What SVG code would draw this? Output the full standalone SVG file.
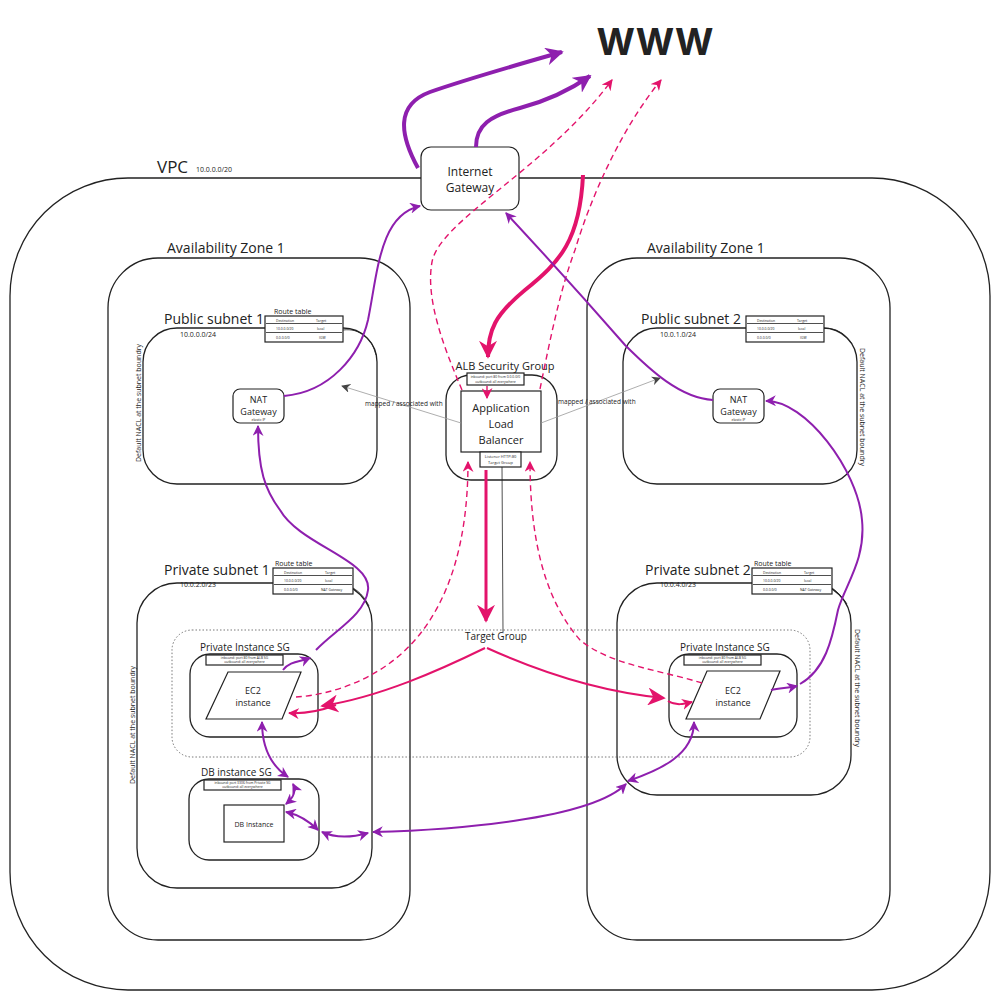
<svg xmlns="http://www.w3.org/2000/svg" width="1002" height="1003" viewBox="0 0 1002 1003">
<defs>
<style>
text{font-family:"Open Sans","Noto Sans",sans-serif;fill:#222}
.box{fill:none;stroke:#222;stroke-width:1.3}
.boxw{fill:#fff;stroke:#222;stroke-width:1.2}
.thin{fill:none;stroke:#222;stroke-width:0.8}
.dot{fill:none;stroke:#555;stroke-width:0.8;stroke-dasharray:1.5 2}
.c{text-anchor:middle}
.t17{font-size:17px}
.t14{font-size:14px}
.t12{font-size:12px}
.t11{font-size:11px}
.t10{font-size:10px}
.t9{font-size:9px}
.t7{font-size:7px}
.t6{font-size:6.5px}
.t4{font-size:4px}
.t3{font-size:3.4px}
.p{fill:none;stroke:#8e1fae;stroke-width:2}
.pL{fill:none;stroke:#8e1fae;stroke-width:4}
.k{fill:none;stroke:#e3136b;stroke-width:2}
.kL{fill:none;stroke:#e3136b;stroke-width:4}
.kd{fill:none;stroke:#e3136b;stroke-width:1.4;stroke-dasharray:6 4}
.g{fill:none;stroke:#999;stroke-width:0.8}
</style>
<marker id="ap" viewBox="0 0 10 10" refX="9" refY="5" markerWidth="11" markerHeight="11" markerUnits="userSpaceOnUse" orient="auto-start-reverse"><path d="M0,0 L10,5 L0,10 L3,5 z" fill="#8e1fae"/></marker>
<marker id="apL" viewBox="0 0 10 10" refX="9" refY="5" markerWidth="18" markerHeight="18" markerUnits="userSpaceOnUse" orient="auto-start-reverse"><path d="M0,0 L10,5 L0,10 L3,5 z" fill="#8e1fae"/></marker>
<marker id="ak" viewBox="0 0 10 10" refX="9" refY="5" markerWidth="11" markerHeight="11" markerUnits="userSpaceOnUse" orient="auto-start-reverse"><path d="M0,0 L10,5 L0,10 L3,5 z" fill="#e3136b"/></marker>
<marker id="akL" viewBox="0 0 10 10" refX="9" refY="5" markerWidth="18" markerHeight="18" markerUnits="userSpaceOnUse" orient="auto-start-reverse"><path d="M0,0 L10,5 L0,10 L3,5 z" fill="#e3136b"/></marker>
<marker id="ag" viewBox="0 0 10 10" refX="9" refY="5" markerWidth="9" markerHeight="9" markerUnits="userSpaceOnUse" orient="auto"><path d="M0,0 L10,5 L0,10 L3,5 z" fill="#444"/></marker>
</defs>

<rect width="1002" height="1003" fill="#fff"/>

<!-- title -->
<text x="655" y="55" class="c" style="font-size:37px;font-weight:700;font-family:Inter,'Open Sans',sans-serif">WWW</text>

<!-- VPC -->
<g id="vpc">
<rect x="10" y="178" width="980" height="812" rx="118" class="box"/>
<text x="157" y="173" class="t17">VPC</text>
<text x="196" y="172" class="t7">10.0.0.0/20</text>
</g>

<g id="igw">
<rect x="421" y="147" width="98" height="63" rx="10" class="boxw"/>
<text x="470" y="176" class="c t12">Internet</text>
<text x="470" y="192" class="c t12">Gateway</text>
</g>

<g id="az1-left">
<rect x="108" y="258" width="302" height="682" rx="50" class="box"/>
<text x="167" y="253" class="t14">Availability Zone 1</text>
</g>
<g id="az1-right">
<rect x="587" y="258" width="303" height="682" rx="50" class="box"/>
<text x="647" y="253" class="t14">Availability Zone 1</text>
</g>

<!-- public subnet 1 -->
<g id="public-subnet-1">
<rect x="143" y="328" width="234" height="156" rx="34" class="box"/>
<text x="164" y="324" class="t14">Public subnet 1</text>
<text x="180" y="337" class="t7">10.0.0.0/24</text>
<text transform="translate(141,403) rotate(-90)" class="c t7">Default NACL at the subnet boundry</text>
</g>
<g id="rt-public-1" transform="translate(265,316)">
<text x="9" y="-2" class="t7">Route table</text>
<rect x="0" y="0" width="78" height="26" class="boxw"/>
<line x1="1" y1="7.5" x2="77" y2="7.5" class="thin"/>
<line x1="1" y1="16.5" x2="77" y2="16.5" class="thin"/>
<text x="11" y="5.5" class="t3">Destination</text><text x="51" y="5.5" class="t3">Target</text>
<text x="11" y="13.5" class="t3">10.0.0.0/20</text><text x="52" y="13.5" class="t3">local</text>
<text x="11" y="22.5" class="t3">0.0.0.0/0</text><text x="54" y="22.5" class="t3">IGW</text>
</g>
<g id="nat-1">
<rect x="233" y="389" width="51" height="34" rx="7" class="boxw"/>
<text x="258.5" y="403" class="c t9">NAT</text>
<text x="258.5" y="415" class="c t9">Gateway</text>
<text x="258.5" y="421" class="c t3">elastic IP</text>
</g>

<!-- public subnet 2 -->
<g id="public-subnet-2">
<rect x="623" y="328" width="234" height="156" rx="34" class="box"/>
<text x="641" y="324" class="t14">Public subnet 2</text>
<text x="660" y="337" class="t7">10.0.1.0/24</text>
<text transform="translate(860,407) rotate(90)" class="c t7">Default NACL at the subnet boundry</text>
</g>
<g id="rt-public-2" transform="translate(746,316)">
<rect x="0" y="0" width="78" height="26" class="boxw"/>
<line x1="1" y1="7.5" x2="77" y2="7.5" class="thin"/>
<line x1="1" y1="16.5" x2="77" y2="16.5" class="thin"/>
<text x="11" y="5.5" class="t3">Destination</text><text x="51" y="5.5" class="t3">Target</text>
<text x="11" y="13.5" class="t3">10.0.0.0/20</text><text x="52" y="13.5" class="t3">local</text>
<text x="11" y="22.5" class="t3">0.0.0.0/0</text><text x="54" y="22.5" class="t3">IGW</text>
</g>
<g id="nat-2">
<rect x="713" y="389" width="51" height="34" rx="7" class="boxw"/>
<text x="738.5" y="403" class="c t9">NAT</text>
<text x="738.5" y="415" class="c t9">Gateway</text>
<text x="738.5" y="421" class="c t3">elastic IP</text>
</g>

<!-- load balancer -->
<g id="alb-sg">
<rect x="446" y="375" width="111" height="105" rx="25" class="box"/>
<text x="505" y="370" class="c t11">ALB Security Group</text>
<rect x="467" y="373" width="57" height="12" class="boxw"/>
<text x="495.5" y="378" class="c t3">inbound: port 80 from 0.0.0.0/0</text>
<text x="495.5" y="382.5" class="c t3">outbound: all everywhere</text>
</g>
<g id="alb">
<rect x="461" y="391" width="80" height="61" class="boxw"/>
<text x="501" y="412" class="c t11">Application</text>
<text x="501" y="428" class="c t11">Load</text>
<text x="501" y="444" class="c t11">Balancer</text>
<rect x="480" y="452" width="41" height="15" class="boxw"/>
<text x="500.5" y="458" class="c t4">Listener HTTP:80</text>
<text x="500.5" y="464" class="c t4">Target Group</text>
</g>

<!-- private subnet 1 -->
<g id="private-subnet-1">
<rect x="137" y="583" width="235" height="305" rx="40" class="box"/>
<text x="164" y="575" class="t14">Private subnet 1</text>
<text x="180" y="587" class="t7">10.0.2.0/23</text>
<text transform="translate(135,725) rotate(-90)" class="c t7">Default NACL at the subnet boundry</text>
</g>
<g id="rt-private-1" transform="translate(273,568)">
<text x="2" y="-2" class="t7">Route table</text>
<rect x="0" y="0" width="80" height="26" class="boxw"/>
<line x1="1" y1="7.5" x2="79" y2="7.5" class="thin"/>
<line x1="1" y1="16.5" x2="79" y2="16.5" class="thin"/>
<text x="11" y="5.5" class="t3">Destination</text><text x="52" y="5.5" class="t3">Target</text>
<text x="11" y="13.5" class="t3">10.0.0.0/20</text><text x="52" y="13.5" class="t3">local</text>
<text x="11" y="22.5" class="t3">0.0.0.0/0</text><text x="48" y="22.5" class="t3">NAT Gateway</text>
</g>

<!-- private subnet 2 -->
<g id="private-subnet-2">
<rect x="617" y="583" width="234" height="212" rx="40" class="box"/>
<text x="645" y="575" class="t14">Private subnet 2</text>
<text x="660" y="587" class="t7">10.0.4.0/23</text>
<text transform="translate(855,688) rotate(90)" class="c t7">Default NACL at the subnet boundry</text>
</g>
<g id="rt-private-2" transform="translate(752,568)">
<text x="2" y="-2" class="t7">Route table</text>
<rect x="0" y="0" width="80" height="26" class="boxw"/>
<line x1="1" y1="7.5" x2="79" y2="7.5" class="thin"/>
<line x1="1" y1="16.5" x2="79" y2="16.5" class="thin"/>
<text x="11" y="5.5" class="t3">Destination</text><text x="52" y="5.5" class="t3">Target</text>
<text x="11" y="13.5" class="t3">10.0.0.0/20</text><text x="52" y="13.5" class="t3">local</text>
<text x="11" y="22.5" class="t3">0.0.0.0/0</text><text x="48" y="22.5" class="t3">NAT Gateway</text>
</g>

<!-- target group -->
<g id="target-group">
<rect x="172" y="630" width="638" height="127" rx="20" class="dot"/>
<text x="496" y="640" class="c t10">Target Group</text>
</g>

<g id="instance-sg-1">
<rect x="190" y="654" width="128" height="83" rx="20" class="box"/>
<text x="200" y="651" class="t10">Private Instance SG</text>
<rect x="206" y="655" width="77" height="10" class="boxw"/>
<text x="244.5" y="659" class="c t3">inbound: port 80 from ALB SG</text>
<text x="244.5" y="663.3" class="c t3">outbound: all everywhere</text>
</g>
<g id="ec2-1">
<polygon points="228,672 301,672 282,719 206,719" class="boxw"/>
<text x="253" y="694" class="c t9">EC2</text>
<text x="253" y="706" class="c t9">instance</text>
</g>

<g id="instance-sg-2">
<rect x="669" y="654" width="128" height="83" rx="20" class="box"/>
<text x="680" y="651" class="t10">Private Instance SG</text>
<rect x="684" y="655" width="77" height="10" class="boxw"/>
<text x="722.5" y="659" class="c t3">inbound: port 80 from ALB SG</text>
<text x="722.5" y="663.3" class="c t3">outbound: all everywhere</text>
</g>
<g id="ec2-2">
<polygon points="707,671 780,671 760,719 686,719" class="boxw"/>
<text x="733" y="694" class="c t9">EC2</text>
<text x="733" y="706" class="c t9">instance</text>
</g>

<g id="db-sg">
<rect x="189" y="779" width="130" height="81" rx="20" class="box"/>
<text x="201" y="776" class="t10">DB instance SG</text>
<rect x="204" y="780" width="77" height="10" class="boxw"/>
<text x="242.5" y="784" class="c t3">inbound: port 3306 from Private SG</text>
<text x="242.5" y="788.3" class="c t3">outbound: all everywhere</text>
</g>
<g id="db">
<rect x="224" y="805" width="60" height="37" class="boxw"/>
<text x="254" y="827" class="c t7">DB Instance</text>
</g>

<!-- connectors -->
<g id="connectors">
<!-- route table associations -->
<path d="M343 330 C360 328 372 338 376 355" class="thin"/>
<path d="M824 328 C836 328 846 334 852 344" class="thin"/>
<path d="M353 588 C360 592 365 598 369 606" class="thin"/>
<path d="M832 588 C838 592 842 597 847 604" class="thin"/>
<!-- listener to target group -->
<path d="M502 467 L503 632" class="thin"/>
<!-- mapped / associated -->
<path d="M461 423 L342 386" class="g" marker-end="url(#ag)"/>
<text x="365" y="406" class="t6">mapped / associated with</text>
<path d="M541 423 L660 378" class="g" marker-end="url(#ag)"/>
<text x="558" y="404" class="t6">mapped / associated with</text>

<!-- internet gateway out to the web -->
<path d="M418 168 C400 135 395 105 430 92 C470 78 520 64 562 52" class="pL" marker-end="url(#apL)"/>
<path d="M476 147 C476 125 490 116 520 108 C550 100 570 90 590 76" class="pL" marker-end="url(#apL)"/>
<!-- inbound request -->
<path d="M583 175 C580 240 560 262 525 290 C495 315 488 330 488 357" class="kL" marker-end="url(#akL)"/>
<path d="M487 386 L487 398" class="kd" marker-end="url(#ak)"/>
<!-- responses back out -->
<path d="M462 390 C445 350 425 300 432 262 C440 220 545 170 612 80" class="kd" marker-end="url(#ak)"/>
<path d="M540 389 C550 340 560 290 575 250 C590 200 620 130 661 80" class="kd" marker-end="url(#ak)"/>
<!-- ALB to target group -->
<path d="M486 470 L486 621" class="k" style="stroke-width:3" marker-end="url(#akL)"/>
<path d="M485 648 C440 670 380 697 322 706" class="k" marker-end="url(#akL)"/>
<path d="M336 705 C320 711 305 714 289 713" class="k" marker-end="url(#ak)"/>
<path d="M487 648 C540 672 600 692 664 698" class="k" marker-end="url(#akL)"/>
<path d="M668 701 C676 706 684 704 692 702" class="k" marker-end="url(#ak)"/>
<!-- instance responses to ALB -->
<path d="M296 697 C330 695 380 680 415 640 C450 600 468 540 468 462" class="kd" marker-end="url(#ak)"/>
<path d="M702 683 C660 670 610 665 580 640 C545 600 530 540 530 462" class="kd" marker-end="url(#ak)"/>

<!-- NAT gateways to internet gateway -->
<path d="M284 396 C330 392 360 355 368 320 C378 270 380 215 420 206" class="p" marker-end="url(#ap)"/>
<path d="M713 400 C680 398 650 370 625 345 C590 305 545 255 506 213" class="p" marker-end="url(#ap)"/>
<!-- instances to NAT gateways -->
<path d="M283 670 C290 661 300 662 310 658" class="p" marker-end="url(#ap)"/>
<path d="M316 650 C335 630 365 615 368 590 C372 560 300 545 280 510 C265 490 258 470 258 426" class="p" marker-end="url(#ap)"/>
<path d="M771 690 C780 688 788 688 797 686" class="p" marker-end="url(#ap)"/>
<path d="M800 684 C825 670 832 640 838 610 C845 585 866 560 862 520 C858 470 805 400 766 401" class="p" marker-end="url(#ap)"/>
<!-- database traffic -->
<path d="M262 722 C262 745 270 765 288 777" class="p" marker-start="url(#ap)" marker-end="url(#ap)"/>
<path d="M293 784 C297 792 293 798 286 804" class="p" marker-start="url(#ap)" marker-end="url(#ap)"/>
<path d="M286 812 C300 815 310 822 318 830" class="p" marker-start="url(#ap)" marker-end="url(#ap)"/>
<path d="M322 832 C335 838 350 838 368 833" class="p" marker-start="url(#ap)" marker-end="url(#ap)"/>
<path d="M373 832 C450 830 590 820 626 784" class="p" marker-start="url(#ap)" marker-end="url(#ap)"/>
<path d="M628 781 C660 770 694 755 694 722" class="p" marker-start="url(#ap)" marker-end="url(#ap)"/>
</g>
</svg>
